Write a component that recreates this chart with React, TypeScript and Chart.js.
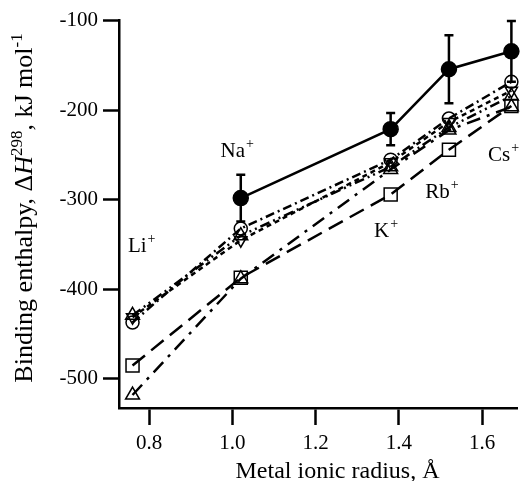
import React, { useEffect, useRef } from "react";
import { Chart, registerables } from "chart.js";

Chart.register(...registerables);

const ions = ["Li", "Na", "K", "Rb", "Cs"];
const radii = [0.76, 1.02, 1.38, 1.52, 1.67];
const expValues = [null, -298, -221, -154, -134];
const expErrors = [null, 26, 18, 38, 34];
const circleValues = [-437, -332, -255, -209, -168];
const invTriValues = [-431, -345, -258, -213, -178];
const triValues = [-429, -340, -263, -219, -184];
const squareValues = [-485, -387, -294, -244, -195];
const lowTriValues = [-518, -388, -266, -222, -196];
const labelX = [0.749, 0.9715, 1.34, 1.463, 1.614];
const labelY = [-358, -252, -342, -298, -257];
const xTicks = [0.8, 1.0, 1.2, 1.4, 1.6];
const yTicks = [-500, -400, -300, -200, -100];

const FAMILY = '"Liberation Serif"';

const toPoints = (vals: (number | null)[]) =>
  radii.map((r, i) => ({ x: r, y: vals[i] }));

const overlayPlugin = {
  id: "overlay",
  afterDatasetsDraw(chart: any) {
    const { ctx, scales } = chart;
    const x = scales.x;
    const y = scales.y;
    ctx.save();
    ctx.strokeStyle = "#000";
    ctx.lineWidth = 2.5;
    radii.forEach((r, i) => {
      const v = expValues[i];
      const e = expErrors[i];
      if (v == null || e == null) return;
      const px = x.getPixelForValue(r);
      const top = y.getPixelForValue(v + e);
      const bot = y.getPixelForValue(v - e);
      ctx.beginPath();
      ctx.moveTo(px, top);
      ctx.lineTo(px, bot);
      ctx.moveTo(px - 4.5, top);
      ctx.lineTo(px + 4.5, top);
      ctx.moveTo(px - 4.5, bot);
      ctx.lineTo(px + 4.5, bot);
      ctx.stroke();
    });
    ctx.fillStyle = "#000";
    ctx.textBaseline = "alphabetic";
    ctx.textAlign = "left";
    ions.forEach((name, i) => {
      const px = x.getPixelForValue(labelX[i]);
      const py = y.getPixelForValue(labelY[i]);
      ctx.font = `21px ${FAMILY}`;
      ctx.fillText(name, px, py);
      const w = ctx.measureText(name).width;
      ctx.font = `14px ${FAMILY}`;
      ctx.fillText("+", px + w + 1, py - 9);
    });
    ctx.restore();
  },
  afterDraw(chart: any) {
    const { ctx } = chart;
    ctx.save();
    ctx.fillStyle = "#000";
    ctx.textBaseline = "alphabetic";
    ctx.textAlign = "left";
    ctx.font = `24px ${FAMILY}`;
    const xt = "Metal ionic radius, Å";
    const xw = ctx.measureText(xt).width;
    ctx.fillText(xt, 337.5 - xw / 2, 478);
    const pieces = [
      { t: "Binding enthalpy, Δ", f: `26px ${FAMILY}`, dy: 0 },
      { t: "H", f: `italic 26px ${FAMILY}`, dy: 0 },
      { t: "298", f: `17px ${FAMILY}`, dy: -10 },
      { t: ", kJ mol", f: `26px ${FAMILY}`, dy: 0 },
      { t: "-1", f: `17px ${FAMILY}`, dy: -10 },
    ];
    let total = 0;
    const widths = pieces.map((p) => {
      ctx.font = p.f;
      const w = ctx.measureText(p.t).width;
      total += w;
      return w;
    });
    ctx.translate(32, 208);
    ctx.rotate(-Math.PI / 2);
    let cx = -total / 2;
    pieces.forEach((p, i) => {
      ctx.font = p.f;
      ctx.fillText(p.t, cx, p.dy);
      cx += widths[i];
    });
    ctx.restore();
  },
};

export default function App() {
  const ref = useRef<HTMLCanvasElement | null>(null);
  useEffect(() => {
    if (!ref.current) return;
    let chart: any = null;
    let cancelled = false;
    const build = () => {
      if (cancelled || !ref.current) return;
      const common = {
        borderColor: "#000",
        pointBorderColor: "#000",
        pointBackgroundColor: "rgba(0,0,0,0)",
        pointBorderWidth: 1.5,
        borderWidth: 2.5,
        fill: false,
        tension: 0,
        clip: false as any,
      };
      chart = new Chart(ref.current, {
        type: "line",
        data: {
          datasets: [
            { ...common, label: "exp", data: toPoints(expValues) as any, pointStyle: "circle", pointRadius: 7.5, pointBackgroundColor: "#000", borderDash: [] },
            { ...common, label: "circles", data: toPoints(circleValues) as any, pointStyle: "circle", pointRadius: 6.5, borderDash: [9, 4, 2, 4] },
            { ...common, label: "invtri", data: toPoints(invTriValues) as any, pointStyle: "triangle", pointRotation: 180, pointRadius: 7, borderDash: [5, 4] },
            { ...common, label: "tri", data: toPoints(triValues) as any, pointStyle: "triangle", pointRadius: 8, borderDash: [10, 4, 2, 4, 2, 4] },
            { ...common, label: "squares", data: toPoints(squareValues) as any, pointStyle: "rect", pointRadius: 9.2, borderDash: [16, 8] },
            { ...common, label: "lowtri", data: toPoints(lowTriValues) as any, pointStyle: "triangle", pointRadius: 8, borderDash: [14, 7, 3, 7] },
          ],
        },
        options: {
          animation: false,
          responsive: false,
          layout: { padding: { top: 20, left: 0, right: 0, bottom: 0 } },
          plugins: { legend: { display: false }, tooltip: { enabled: false } },
          scales: {
            x: {
              type: "linear",
              min: 0.7275,
              max: 1.6842,
              afterBuildTicks: (s: any) => {
                s.ticks = xTicks.map((v) => ({ value: v }));
              },
              afterFit: (s: any) => {
                s.height = 73;
              },
              grid: { drawOnChartArea: false, drawTicks: true, tickLength: 17, tickWidth: 2.5, tickColor: "#000" },
              border: { display: true, color: "#000", width: 2.5 },
              ticks: {
                color: "#000",
                font: { family: FAMILY, size: 21 },
                padding: 6,
                maxRotation: 0,
                autoSkip: false,
                callback: (v: any) => Number(v).toFixed(1),
              },
            },
            y: {
              type: "linear",
              min: -532.5,
              max: -99,
              afterBuildTicks: (s: any) => {
                s.ticks = yTicks.map((v) => ({ value: v }));
              },
              afterFit: (s: any) => {
                s.width = 119;
              },
              grid: { drawOnChartArea: false, drawTicks: true, tickLength: 16, tickWidth: 2.5, tickColor: "#000" },
              border: { display: true, color: "#000", width: 2.5 },
              ticks: {
                color: "#000",
                font: { family: FAMILY, size: 21 },
                padding: 5,
                autoSkip: false,
                callback: (v: any) => String(v),
              },
            },
          },
        },
        plugins: [overlayPlugin],
      });
    };
    const fonts: any = (document as any).fonts;
    if (fonts && fonts.load) {
      Promise.all([
        fonts.load(`21px ${FAMILY}`),
        fonts.load(`italic 26px ${FAMILY}`),
      ])
        .catch(() => null)
        .then(build);
    } else {
      build();
    }
    return () => {
      cancelled = true;
      if (chart) chart.destroy();
    };
  }, []);
  return (
    <div style={{ position: "fixed", left: 0, top: 0, width: 528, height: 481, background: "#fff" }}>
      <canvas ref={ref} width={528} height={481} style={{ display: "block" }} />
    </div>
  );
}
